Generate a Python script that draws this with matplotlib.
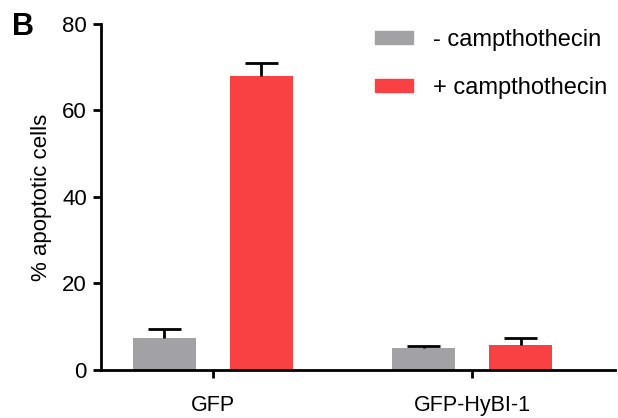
import numpy as np
import matplotlib.pyplot as plt
from matplotlib.patches import Patch

plt.rcParams['font.family'] = ['Liberation Sans', 'DejaVu Sans']

groups = ['GFP', 'GFP-HyBI-1']
minus_mean = np.array([7.4, 5.1])
minus_err = np.array([2.1, 0.4])
plus_mean = np.array([68.0, 5.8])
plus_err = np.array([2.9, 1.6])

gray = '#a2a1a6'
red = '#f94144'

fig = plt.figure(figsize=(6.18, 4.18), dpi=100)
ax = fig.add_axes([0.163, 0.115, 0.832, 0.828])

x = np.arange(len(groups))
w = 0.243
off = 0.187
cap = 0.064
lw = 2.0


def bars_with_upper_err(xs, mean, err, color):
    ax.bar(xs, mean, w, color=color, zorder=2)
    # only the upper half of the error bar is drawn
    ax.vlines(xs, mean, mean + err, color='black', lw=lw, zorder=3)
    ax.hlines(mean + err, xs - cap, xs + cap, color='black', lw=lw, zorder=3)


bars_with_upper_err(x - off, minus_mean, minus_err, gray)
bars_with_upper_err(x + off, plus_mean, plus_err, red)

ax.set_xlim(-0.432, 1.55)
ax.set_ylim(0, 80)
ax.set_yticks([0, 20, 40, 60, 80])
ax.set_xticks(x)
ax.set_xticklabels(groups)
ax.spines['top'].set_visible(False)
ax.spines['right'].set_visible(False)
for s in ('left', 'bottom'):
    ax.spines[s].set_linewidth(2.0)
ax.tick_params(axis='y', length=6, width=2.0, labelsize=16, pad=4)
ax.tick_params(axis='x', length=6, width=2.0, labelsize=15.5, pad=12)
ax.set_ylabel('% apoptotic cells', fontsize=16, labelpad=7)

handles = [Patch(color=gray, label='- campthothecin'),
           Patch(color=red, label='+ campthothecin')]
ax.legend(handles=handles, loc='upper left',
          bbox_to_anchor=(375 / 618, 1 - 29 / 418),
          bbox_transform=fig.transFigure, borderpad=0, borderaxespad=0,
          frameon=False, fontsize=17, handlelength=1.6, handleheight=0.45,
          handletextpad=0.85, labelspacing=1.1)

fig.text(12 / 618, 1 - 35 / 418, 'B', fontsize=22, fontweight='bold')

fig.savefig('out.png', dpi=100)
